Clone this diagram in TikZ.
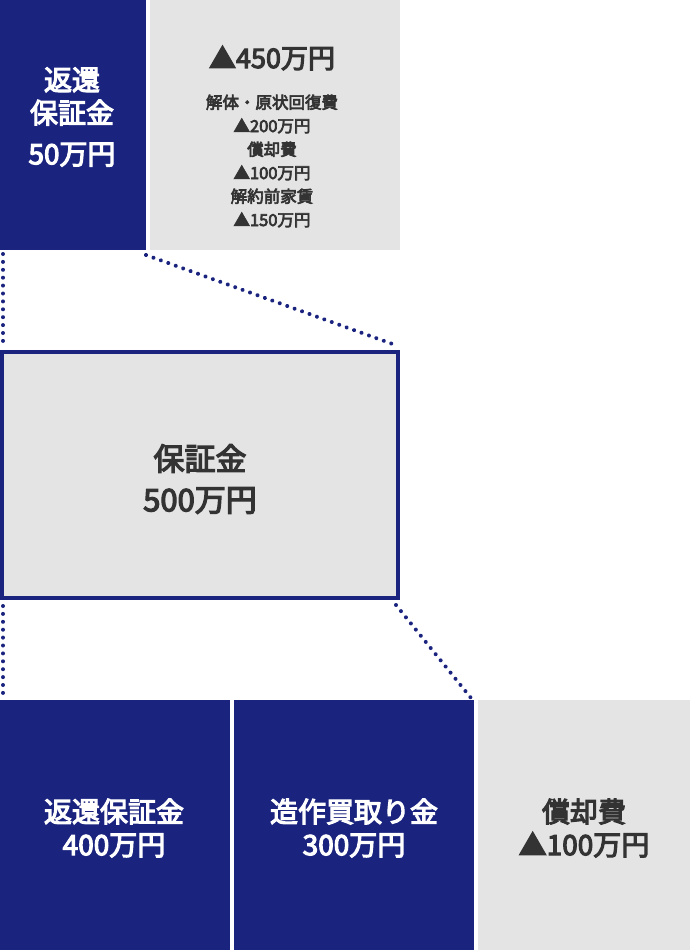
\documentclass[tikz,border=0pt]{standalone}
\usepackage{fontspec}
\usetikzlibrary{decorations.markings}
\setmainfont{Noto Sans CJK JP}
\newfontfamily\medfont{Noto Sans CJK JP}[FakeBold=4]
\definecolor{navy}{HTML}{1A237E}
\definecolor{lgray}{HTML}{E4E4E4}
\definecolor{txt}{HTML}{333333}
\tikzset{
  box/.style={inner sep=0pt, outer sep=0pt, anchor=center},
  navybox/.style={box, fill=navy},
  graybox/.style={box, fill=lgray},
  wlabel/.style={inner sep=0pt, text=white, align=center},
  glabel/.style={inner sep=0pt, text=txt, align=center},
  fs/.style 2 args={font=\medfont\fontsize{#1}{#2}\selectfont},
  dots/.style={postaction={decorate}, decoration={markings,
     mark=between positions 0 and 1 step 7.9pt with {\fill[navy] (0,0) circle (2pt);}}},
}
\begin{document}
\begin{tikzpicture}[x=1pt,y=-1pt]
\useasboundingbox[fill=white] (0,0) rectangle (690,950);
% top row
\node[navybox, minimum width=146pt, minimum height=250pt] (tl) at (73,125) {};
\node[graybox, minimum width=250pt, minimum height=250pt] (tr) at (275,125) {};
% middle
\node[box, fill=lgray, draw=navy, line width=4pt, minimum width=396pt, minimum height=246pt] (mid) at (200,475) {};
% bottom row
\node[navybox, minimum width=230pt, minimum height=250pt] (b1) at (115,825) {};
\node[navybox, minimum width=240pt, minimum height=250pt] (b2) at (354,825) {};
\node[graybox, minimum width=212pt, minimum height=250pt] (b3) at (584,825) {};
% labels
\node[wlabel, fs={28}{33}] (tlt) at (72,117) {返還\\保証金\\[8pt]50万円};
\node[glabel, fs={27}{30}] (trh) at (272,58) {▲450万円};
\node[glabel, fs={16.5}{23.5}] (trd) at (272,161) {解体・原状回復費\\▲200万円\\償却費\\▲100万円\\解約前家賃\\▲150万円};
\node[glabel, fs={31}{41}] (midt) at (200,479) {保証金\\500万円};
\node[wlabel, fs={28}{33}] (b1t) at (114,828) {返還保証金\\400万円};
\node[wlabel, fs={28}{33}] (b2t) at (354,828) {造作買取り金\\300万円};
\node[glabel, fs={28}{33}] (b3t) at (584,828) {償却費\\▲100万円};
% dotted connectors
\path[dots] ([shift={(3pt,-4pt)}]tl.south west) -- ([shift={(1pt,9pt)}]mid.north west);
\path[dots] ([shift={(0pt,-5pt)}]tl.south east) -- ([shift={(0pt,6pt)}]mid.north east);
\path[dots] ([shift={(1pt,-8pt)}]mid.south west) -- ([shift={(3pt,5pt)}]b1.north west);
\path[dots] ([shift={(-2pt,-7pt)}]mid.south east) -- ([shift={(-3pt,2pt)}]b2.north east);
\end{tikzpicture}
\end{document}
